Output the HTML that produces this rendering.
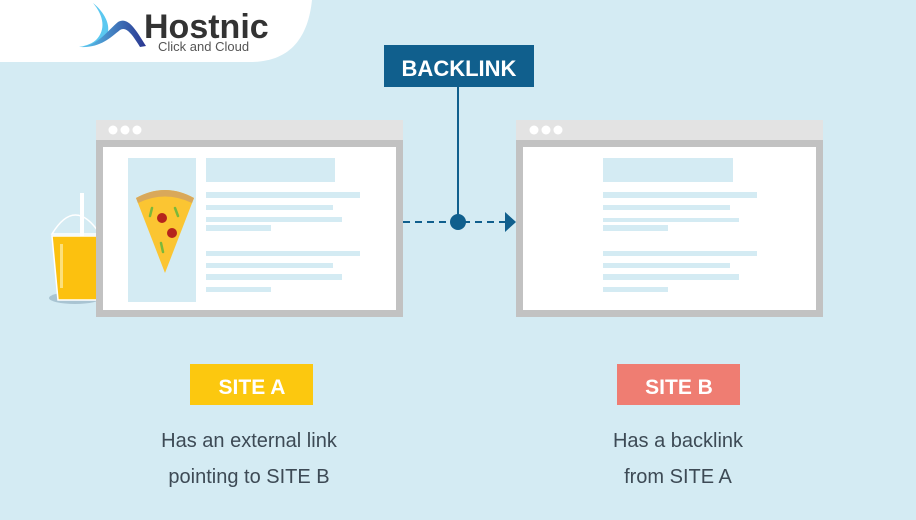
<!DOCTYPE html>
<html><head><meta charset="utf-8"><style>
html,body{margin:0;padding:0;background:#d4ebf3;}
svg{display:block}
</style></head><body>
<svg width="916" height="520" viewBox="0 0 916 520" xmlns="http://www.w3.org/2000/svg">
<defs>
<linearGradient id="lg" x1="0" y1="0" x2="1" y2="1">
<stop offset="0" stop-color="#5bc8f0"/><stop offset="0.5" stop-color="#2f8fd6"/><stop offset="1" stop-color="#2b3a9a"/>
</linearGradient>
<linearGradient id="lg2" x1="0" y1="0" x2="1" y2="0">
<stop offset="0" stop-color="#5bc8f0"/><stop offset="1" stop-color="#2a3590"/>
</linearGradient>
</defs>
<rect width="916" height="520" fill="#d4ebf3"/>
<path d="M0,0 H312 C308,38 290,62 250,62 H0 Z" fill="#fff"/>
<path d="M93,3 C104,16 106,30 96,40 C90,45 84,46 79,47 C92,47 104,42 108,32 C110,22 102,10 93,3 Z" fill="#5bc8f0"/>
<path d="M80,47 C98,46 108,30 118,22 C128,16 136,30 146,46 L140,47 C132,34 126,26 120,30 C110,38 100,48 80,47 Z" fill="url(#lg2)"/>
<text x="144" y="38" font-family="Liberation Sans, sans-serif" font-weight="bold" font-size="34" fill="#333">Hostnic</text>
<text x="158" y="51" font-family="Liberation Sans, sans-serif" font-size="13" fill="#555">Click and Cloud</text>

<ellipse cx="75" cy="298" rx="26" ry="6" fill="#a9c4d2"/>
<path d="M52,234 Q75,196 100,234 Z" fill="none" stroke="#fff" stroke-width="1.5"/>
<rect x="80" y="193" width="4" height="45" fill="#fff"/>
<path d="M52,236 L100,236 L97,300 L58,300 Z" fill="#fcc10f" stroke="#fff" stroke-width="1.5"/>
<rect x="60" y="244" width="3" height="44" fill="#fde07a"/>

<rect x="96" y="120" width="307" height="21" fill="#e3e3e3"/>
<circle cx="113" cy="130" r="4.5" fill="#fff"/><circle cx="125" cy="130" r="4.5" fill="#fff"/><circle cx="137" cy="130" r="4.5" fill="#fff"/>
<rect x="96" y="140" width="307" height="177" fill="#c2c2c2"/>
<rect x="103" y="147" width="293" height="163" fill="#fff"/>
<rect x="128" y="158" width="68" height="144" fill="#d4ebf3"/>
<path d="M136,198 Q165,182 194,198 L165,273 Z" fill="#fbc532"/>
<path d="M136,198 Q165,182 194,198 L192,203 Q165,190 138,203 Z" fill="#d9a85a"/>
<circle cx="162" cy="218" r="5" fill="#b5241c"/><circle cx="172" cy="233" r="5" fill="#b5241c"/>
<path d="M152,208 l-2,8" stroke="#7ab83a" stroke-width="2.5" stroke-linecap="round"/>
<path d="M175,208 l3,8" stroke="#7ab83a" stroke-width="2.5" stroke-linecap="round"/>
<path d="M161,243 l2,9" stroke="#7ab83a" stroke-width="2.5" stroke-linecap="round"/>
<g fill="#d4ebf3">
<rect x="206" y="158" width="129" height="24"/>
<rect x="206" y="192" width="154" height="6"/>
<rect x="206" y="205" width="127" height="5"/>
<rect x="206" y="217" width="136" height="5"/>
<rect x="206" y="225" width="65" height="6"/>
<rect x="206" y="251" width="154" height="5"/>
<rect x="206" y="263" width="127" height="5"/>
<rect x="206" y="274" width="136" height="6"/>
<rect x="206" y="287" width="65" height="5"/>
</g>

<rect x="516" y="120" width="307" height="21" fill="#e3e3e3"/>
<circle cx="534" cy="130" r="4.5" fill="#fff"/><circle cx="546" cy="130" r="4.5" fill="#fff"/><circle cx="558" cy="130" r="4.5" fill="#fff"/>
<rect x="516" y="140" width="307" height="177" fill="#c2c2c2"/>
<rect x="523" y="147" width="293" height="163" fill="#fff"/>
<g fill="#d4ebf3">
<rect x="603" y="158" width="130" height="24"/>
<rect x="603" y="192" width="154" height="6"/>
<rect x="603" y="205" width="127" height="5"/>
<rect x="603" y="218" width="136" height="4"/>
<rect x="603" y="225" width="65" height="6"/>
<rect x="603" y="251" width="154" height="5"/>
<rect x="603" y="263" width="127" height="5"/>
<rect x="603" y="274" width="136" height="6"/>
<rect x="603" y="287" width="65" height="5"/>
</g>

<rect x="384" y="45" width="150" height="42" fill="#105f8d"/>
<text x="459" y="76" text-anchor="middle" font-family="Liberation Sans, sans-serif" font-weight="bold" font-size="22" fill="#fff">BACKLINK</text>
<line x1="458" y1="87" x2="458" y2="222" stroke="#105f8d" stroke-width="2"/>
<line x1="403" y1="222" x2="506" y2="222" stroke="#105f8d" stroke-width="2" stroke-dasharray="7,5"/>
<circle cx="458" cy="222" r="8" fill="#105f8d"/>
<path d="M505,212 L516,222 L505,232 Z" fill="#105f8d"/>

<rect x="190" y="364" width="123" height="41" fill="#fcc80f"/>
<text x="252" y="394" text-anchor="middle" font-family="Liberation Sans, sans-serif" font-weight="bold" font-size="21" fill="#fff">SITE A</text>
<rect x="617" y="364" width="123" height="41" fill="#ef7d72"/>
<text x="679" y="394" text-anchor="middle" font-family="Liberation Sans, sans-serif" font-weight="bold" font-size="21" fill="#fff">SITE B</text>
<g font-family="Liberation Sans, sans-serif" font-size="20" fill="#3d4a55" text-anchor="middle">
<text x="249" y="447">Has an external link</text>
<text x="249" y="483">pointing to SITE B</text>
<text x="678" y="447">Has a backlink</text>
<text x="678" y="483">from SITE A</text>
</g>
</svg>
</body></html>
